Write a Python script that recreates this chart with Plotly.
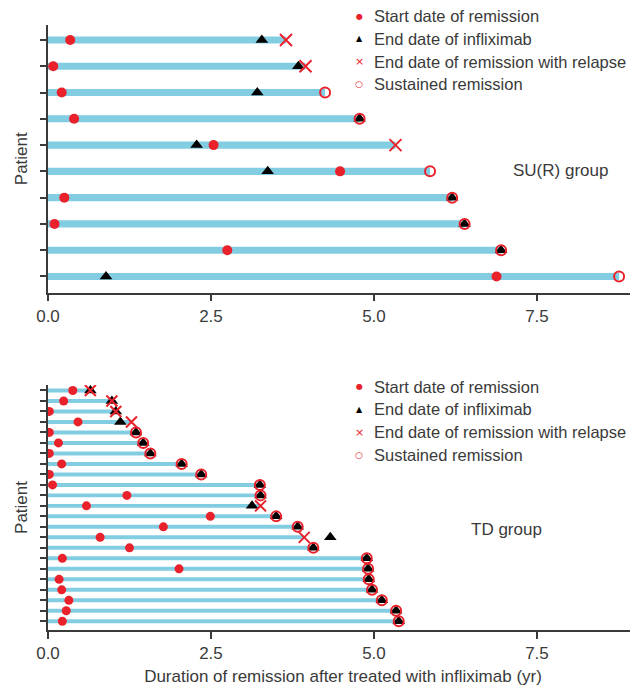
import plotly.graph_objects as go

# ---------------- data (rows listed top to bottom) ----------------
sur_start = [0.34, 0.08, 0.21, 0.40, 2.54, 4.48, 0.25, 0.10, 2.75, 6.88]
sur_ifx_end = [3.28, 3.84, 3.21, 4.78, 2.28, 3.37, 6.20, 6.39, 6.95, 0.89]
sur_rem_end = [3.65, 3.95, 4.25, 4.78, 5.33, 5.86, 6.20, 6.39, 6.95, 8.76]
sur_relapse = [True, True, False, False, True, False, False, False, False, False]

td_start = [0.38, 0.24, 0.02, 0.46, 0.02, 0.16, 0.02, 0.21, 0.02, 0.07, 1.21, 0.59,
            2.49, 1.77, 0.80, 1.25, 0.22, 2.01, 0.17, 0.21, 0.32, 0.28, 0.22]
td_ifx_end = [0.65, 0.98, 1.04, 1.11, 1.35, 1.46, 1.57, 2.05, 2.35, 3.25, 3.26, 3.13,
              3.50, 3.83, 4.33, 4.07, 4.89, 4.91, 4.92, 4.97, 5.12, 5.34, 5.38]
td_rem_end = [0.65, 0.98, 1.04, 1.28, 1.35, 1.46, 1.57, 2.05, 2.35, 3.25, 3.26, 3.26,
              3.50, 3.83, 3.93, 4.07, 4.89, 4.91, 4.92, 4.97, 5.12, 5.34, 5.38]
td_relapse = [True, True, True, True, False, False, False, False, False, False, False, True,
              False, False, True, False, False, False, False, False, False, False, False]

x_tickvals = [0, 2.5, 5.0, 7.5]
x_ticktext = ["0.0", "2.5", "5.0", "7.5"]
legend_labels = ["Start date of remission", "End date of infliximab",
                 "End date of remission with relapse", "Sustained remission"]
legend_glyphs = ["●", "▲", "×", "○"]
group_labels = ["SU(R) group", "TD group"]
y_title = "Patient"
x_title = "Duration of remission after treated with infliximab (yr)"

# ---------------- style ----------------
RED = "#e8212b"
BLUE = "#82cde2"
TXT = "#3a3a3a"
AX = "#3a3a3a"
FONT = "Liberation Sans, Arial, sans-serif"
FS = 17
OFF = 8                      # default page body margin
W, H = 638 - OFF, 686 - OFF
BOT_AXIS = 630               # page y of the lower x-axis line
ML, MR, MT = 48 - OFF, 0, 25 - OFF
MB = H + OFF - BOT_AXIS
plot_h = H - MT - MB

def py(p):  # page pixel y -> paper y
    return (H - MB - (p - OFF)) / plot_h

def px(p):  # page pixel x -> paper x
    return (p - OFF - ML) / (W - ML - MR)

fig = go.Figure()

def add_panel(start, ifx, rem, relapse, xa, ya, bar_w, s_dot, s_tri, s_x, s_circ):
    n = len(start)
    ypos = list(range(n, 0, -1))
    fig.add_trace(go.Bar(x=rem, y=ypos, base=0, orientation="h", width=bar_w,
                         marker=dict(color=BLUE, line=dict(width=0)),
                         xaxis=xa, yaxis=ya, showlegend=False, hoverinfo="skip"))
    fig.add_trace(go.Scatter(x=ifx, y=ypos, mode="markers", xaxis=xa, yaxis=ya,
                             marker=dict(symbol="triangle-up", size=s_tri, color="black"),
                             showlegend=False))
    fig.add_trace(go.Scatter(x=start, y=ypos, mode="markers", xaxis=xa, yaxis=ya,
                             marker=dict(symbol="circle", size=s_dot, color=RED),
                             showlegend=False))
    rx = [r for r, f in zip(rem, relapse) if f]
    ry = [y for y, f in zip(ypos, relapse) if f]
    sx = [r for r, f in zip(rem, relapse) if not f]
    sy = [y for y, f in zip(ypos, relapse) if not f]
    fig.add_trace(go.Scatter(x=rx, y=ry, mode="markers", xaxis=xa, yaxis=ya,
                             marker=dict(symbol="x-thin-open", size=s_x, color=RED,
                                         line=dict(width=2, color=RED)),
                             showlegend=False))
    fig.add_trace(go.Scatter(x=sx, y=sy, mode="markers", xaxis=xa, yaxis=ya,
                             marker=dict(symbol="circle-open", size=s_circ, color=RED,
                                         line=dict(width=2, color=RED)),
                             showlegend=False))
    return ypos

ypos_top = add_panel(sur_start, sur_ifx_end, sur_rem_end, sur_relapse, "x", "y",
                     0.27, 10, 11, 12, 10)
ypos_bot = add_panel(td_start, td_ifx_end, td_rem_end, td_relapse, "x2", "y2",
                     0.38, 9, 11, 11, 10)

xcommon = dict(range=[0, 9.05], tickvals=x_tickvals, ticktext=x_ticktext,
               showline=True, linecolor=AX, linewidth=1.5, ticks="outside",
               ticklen=7, tickwidth=1.5, tickcolor=AX, showgrid=False, zeroline=False,
               tickfont=dict(family=FONT, size=FS, color=TXT), fixedrange=True,
               automargin=False)
ycommon = dict(showline=True, linecolor=AX, linewidth=1.5, ticks="outside",
               ticklen=6, tickwidth=1.5, tickcolor=AX, showgrid=False, zeroline=False,
               showticklabels=False, automargin=False,
               title=dict(text=y_title, font=dict(family=FONT, size=FS, color=TXT), standoff=8))

top_dom = [py(292.5), 1.0]
bot_dom = [0.0, py(385)]

fig.update_layout(
    width=W, height=H,
    margin=dict(l=ML, r=MR, t=MT, b=MB),
    paper_bgcolor="white", plot_bgcolor="white",
    barmode="overlay", showlegend=False,
    font=dict(family=FONT, size=FS, color=TXT),
    xaxis=dict(**xcommon, domain=[0, 1], anchor="y"),
    yaxis=dict(**ycommon, domain=top_dom, anchor="x", range=[0.39, 10.57],
               tickvals=ypos_top),
    xaxis2=dict(**xcommon, domain=[0, 1], anchor="y2",
                title=dict(text=x_title, font=dict(family=FONT, size=FS, color=TXT),
                           standoff=8)),
    yaxis2=dict(**ycommon, domain=bot_dom, anchor="x2", range=[0.17, 23.52],
                tickvals=ypos_bot),
)

# legend built as text rows (symbol + label) for each panel
glyph_colors = [RED, "black", RED, RED]
glyph_sizes = [8, 8, 11, 9]
legend_tops = [16.3, 386.7]
for top in legend_tops:
    for i, (lab, g, c, s) in enumerate(zip(legend_labels, legend_glyphs, glyph_colors, glyph_sizes)):
        yy = py(top + i * 22.67)
        fig.add_annotation(xref="paper", yref="paper", x=px(359), y=yy, text=g,
                           showarrow=False, xanchor="center", yanchor="middle",
                           font=dict(family="DejaVu Sans", size=s, color=c))
        fig.add_annotation(xref="paper", yref="paper", x=px(372), y=yy, text=lab,
                           showarrow=False, xanchor="left", yanchor="middle",
                           font=dict(family=FONT, size=16.5, color=TXT))

group_pos = [(560, 170), (506, 529)]
for lab, (gx, gy) in zip(group_labels, group_pos):
    fig.add_annotation(xref="paper", yref="paper", x=px(gx), y=py(gy), text=lab,
                       showarrow=False, xanchor="center", yanchor="middle",
                       font=dict(family=FONT, size=FS, color=TXT))

fig.write_html("out.html")
